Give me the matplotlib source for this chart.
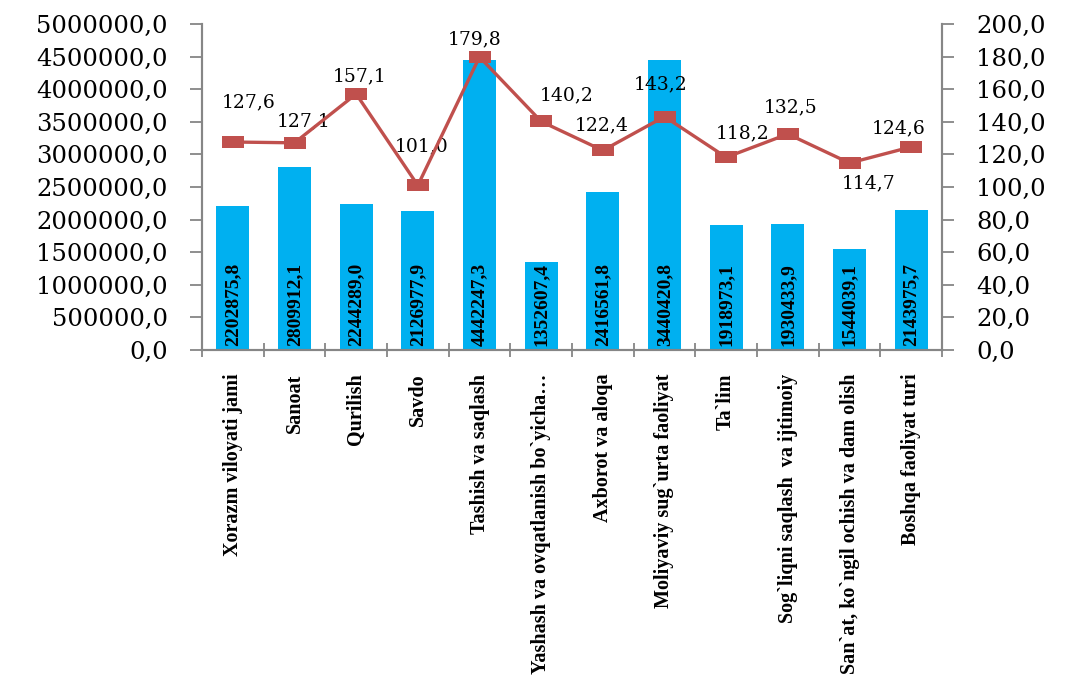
import matplotlib
matplotlib.use("Agg")
import matplotlib.pyplot as plt
import numpy as np
from matplotlib.ticker import MultipleLocator, FuncFormatter, FixedLocator

categories = [
    "Xorazm viloyati jami", "Sanoat", "Qurilish", "Savdo", "Tashish va saqlash",
    "Yashash va ovqatlanish bo`yicha…", "Axborot va aloqa",
    "Moliyaviy sug`urta faoliyat", "Ta`lim", "Sog`liqni saqlash  va ijtimoiy",
    "San`at, ko`ngil ochish va dam olish", "Boshqa faoliyat turi",
]
bar_values = [2202875.8, 2809912.1, 2244289.0, 2126977.9, 4442247.3, 1352607.4,
              2416561.8, 4440420.8, 1918973.1, 1930433.9, 1544039.1, 2143975.7]
bar_labels = ["2202875,8", "2809912,1", "2244289,0", "2126977,9", "4442247,3",
              "1352607,4", "2416561,8", "3440420,8", "1918973,1", "1930433,9",
              "1544039,1", "2143975,7"]
line_values = [127.6, 127.1, 157.1, 101.0, 179.8, 140.2, 122.4, 143.2, 118.2,
               132.5, 114.7, 124.6]

# label offsets in pixels (layout only)
label_offsets = [(16, 40), (9, 21), (3, 18), (4, 39), (-5, 18), (26, 26),
                 (-1, 25), (-4, 32), (16, 24), (3, 27), (19, -20), (-13, 19)]

BAR_COLOR = "#00B0F0"
LINE_COLOR = "#C0504D"
AXIS_COLOR = "#868686"

fig = plt.figure(figsize=(10.65, 6.92), dpi=100)
ax = fig.add_axes([202/1065, 1-350/692, 740/1065, 326/692])
ax2 = ax.twinx()

x = np.arange(len(categories))
ax.bar(x, bar_values, width=0.54, color=BAR_COLOR, zorder=2)
ax.set_xlim(-0.5, len(categories)-0.5)
ax.set_ylim(0, 5000000)
ax.yaxis.set_major_locator(MultipleLocator(500000))
fmt = FuncFormatter(lambda v, p: f"{v:.1f}".replace(".", ","))
ax.yaxis.set_major_formatter(fmt)

for xi, lab in zip(x, bar_labels):
    ax.text(xi, 60000, lab, rotation=90, ha="center", va="bottom",
            fontsize=14, fontweight="bold", family="Liberation Serif",
            color="black", zorder=5)

ax.set_xticks(x)
ax.set_xticklabels(categories, rotation=90, fontsize=14.5, fontweight="bold",
                   family="Liberation Serif", va="top", ha="center")
ax.tick_params(axis="x", which="major", length=0, pad=17)
ax.xaxis.set_minor_locator(FixedLocator(np.arange(-0.5, len(categories), 1.0)))
ax.tick_params(axis="x", which="minor", direction="inout", length=9.5,
               width=1.3, color=AXIS_COLOR)

ax.tick_params(axis="y", direction="out", length=8.6, width=1.3,
               color=AXIS_COLOR, pad=16)
for t in ax.get_yticklabels():
    t.set_family("DejaVu Serif")
    t.set_fontsize(17.5)

ax2.set_ylim(0, 200)
ax2.yaxis.set_major_locator(MultipleLocator(20))
ax2.yaxis.set_major_formatter(fmt)
ax2.tick_params(axis="y", direction="out", length=8.6, width=1.3,
                color=AXIS_COLOR, pad=16)
for t in ax2.get_yticklabels():
    t.set_family("DejaVu Serif")
    t.set_fontsize(17.5)

rect = [(-1, -0.55), (1, -0.55), (1, 0.55), (-1, 0.55), (-1, -0.55)]
ax2.plot(x, line_values, color=LINE_COLOR, linewidth=2.4, marker=rect,
         markersize=16, markeredgewidth=0, markerfacecolor=LINE_COLOR, zorder=4)
for xi, v, (dx, dy) in zip(x, line_values, label_offsets):
    ax2.annotate(f"{v:.1f}".replace(".", ","), (xi, v), xytext=(dx, dy),
                 textcoords="offset pixels", ha="center", va="center",
                 fontsize=13.5, family="DejaVu Serif", color="black")

for a in (ax, ax2):
    a.spines["top"].set_visible(False)
    for s in ("left", "right", "bottom"):
        a.spines[s].set_color(AXIS_COLOR)
        a.spines[s].set_linewidth(1.5)

fig.savefig("out.png", dpi=100)
